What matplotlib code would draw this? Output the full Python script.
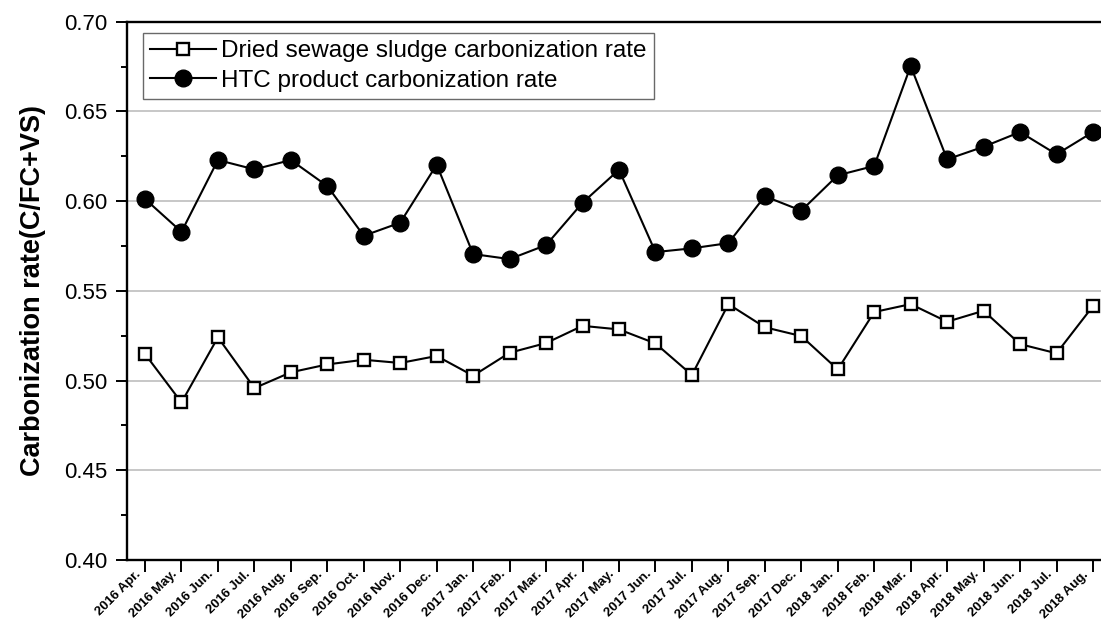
import numpy as np
import matplotlib
matplotlib.use("Agg")
import matplotlib.pyplot as plt
from matplotlib.ticker import MultipleLocator
from matplotlib.transforms import ScaledTranslation

plt.rcParams['font.family'] = ['Liberation Sans', 'DejaVu Sans']

months = ["2016 Apr.", "2016 May.", "2016 Jun.", "2016 Jul.", "2016 Aug.", "2016 Sep.",
          "2016 Oct.", "2016 Nov.", "2016 Dec.", "2017 Jan.", "2017 Feb.", "2017 Mar.",
          "2017 Apr.", "2017 May.", "2017 Jun.", "2017 Jul.", "2017 Aug.", "2017 Sep.",
          "2017 Dec.", "2018 Jan.", "2018 Feb.", "2018 Mar.", "2018 Apr.", "2018 May.",
          "2018 Jun.", "2018 Jul.", "2018 Aug."]

dried = [0.5148, 0.4878, 0.5241, 0.4958, 0.5046, 0.5090, 0.5116, 0.5098, 0.5137,
         0.5027, 0.5155, 0.5209, 0.5305, 0.5285, 0.5207, 0.5031, 0.5426, 0.5297,
         0.5248, 0.5062, 0.5382, 0.5426, 0.5328, 0.5389, 0.5203, 0.5152, 0.5415]

htc = [0.6012, 0.5829, 0.6229, 0.6177, 0.6229, 0.6084, 0.5807, 0.5880, 0.6203,
       0.5705, 0.5677, 0.5755, 0.5991, 0.6175, 0.5716, 0.5737, 0.5766, 0.6027,
       0.5947, 0.6144, 0.6196, 0.6753, 0.6233, 0.6303, 0.6385, 0.6261, 0.6385]

x = np.arange(len(months))

fig = plt.figure(figsize=(11.01, 6.24), dpi=100)
ax = fig.add_axes([127 / 1101, 1 - 560 / 624, 974 / 1101, (560 - 21.7) / 624])

ax.plot(x, dried, color="black", lw=1.5, marker="s", ms=9, mfc="white",
        mec="black", mew=1.7, label="Dried sewage sludge carbonization rate", zorder=3)
ax.plot(x, htc, color="black", lw=1.5, marker="o", ms=12, mfc="black",
        mec="black", label="HTC product carbonization rate", zorder=3)

ax.set_xlim(-0.494, 26.22)
ax.set_ylim(0.40, 0.70)
ax.yaxis.set_major_locator(MultipleLocator(0.05))
ax.yaxis.set_minor_locator(MultipleLocator(0.025))
ax.yaxis.set_major_formatter(matplotlib.ticker.FormatStrFormatter('%.2f'))
ax.grid(axis="y", which="major", color="#b8b8b8", lw=1.1, zorder=0)
ax.set_axisbelow(True)

ax.set_xticks(x)
ax.set_xticklabels(months, rotation=45, ha="right", va="baseline", rotation_mode="anchor",
                   fontsize=9.5, fontweight="bold")
ax.tick_params(axis="x", direction="out", length=8.5, width=1.4, pad=2)
# nudge labels a little left of their ticks
shift = ScaledTranslation(-4 / 100, 0, fig.dpi_scale_trans)
for lab in ax.get_xticklabels():
    lab.set_transform(lab.get_transform() + shift)
ax.tick_params(axis="y", which="major", direction="out", length=8, width=1.4,
               labelsize=16, pad=6)
ax.tick_params(axis="y", which="minor", direction="out", length=4.3, width=1.4)

ax.spines["right"].set_visible(False)
for s in ["left", "bottom", "top"]:
    ax.spines[s].set_linewidth(1.7)

ax.set_ylabel("Carbonization rate(C/FC+VS)", fontsize=19.5, fontweight="bold")
ax.yaxis.set_label_coords(-0.083, 0.5)

leg = ax.legend(loc="upper left", bbox_to_anchor=(0.0164, 0.979), borderaxespad=0,
                fontsize=17.5, frameon=True, fancybox=False, handlelength=2.7,
                handletextpad=0.2, labelspacing=0.3, borderpad=0.3)
leg.get_frame().set_edgecolor("#444444")
leg.get_frame().set_linewidth(1.0)

fig.savefig("out.png", dpi=100)
